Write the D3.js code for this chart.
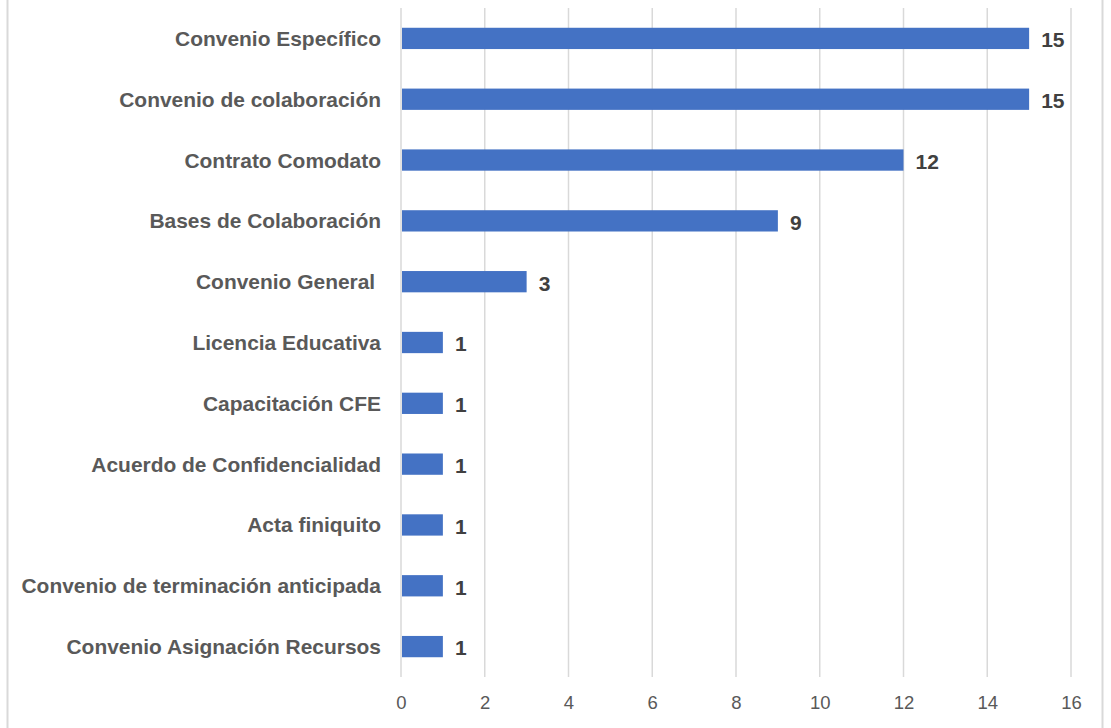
<!DOCTYPE html>
<html><head><meta charset="utf-8">
<script src="https://cdn.jsdelivr.net/npm/d3@7"></script>
<style>body{margin:0;background:#fff;} text{white-space:pre;}</style>
</head><body>
<svg id="c" width="1111" height="728"></svg>
<script>
const categories = ["Convenio Específico","Convenio de colaboración","Contrato Comodato","Bases de Colaboración","Convenio General ","Licencia Educativa","Capacitación CFE","Acuerdo de Confidencialidad","Acta finiquito","Convenio de terminación anticipada","Convenio Asignación Recursos"];
const values = [15,15,12,9,3,1,1,1,1,1,1];
const xTicks = [0,2,4,6,8,10,12,14,16];

const svg = d3.select("#c");
// frame borders
svg.append("line").attr("x1",7.5).attr("x2",7.5).attr("y1",0).attr("y2",728).attr("stroke","#d9d9d9").attr("stroke-width",2);
svg.append("line").attr("x1",1102.5).attr("x2",1102.5).attr("y1",0).attr("y2",728).attr("stroke","#d9d9d9").attr("stroke-width",2);

const x = d3.scaleLinear().domain([0,16]).range([401,1071]);
const y = d3.scaleBand().domain(categories).range([8,677]).paddingInner(0.65).paddingOuter(0.325);

const grid = svg.append("g");
grid.selectAll("line").data(xTicks).join("line")
  .attr("x1",d=>x(d)).attr("x2",d=>x(d)).attr("y1",8).attr("y2",677)
  .attr("stroke","#d9d9d9").attr("stroke-width",1.5);

const ax = svg.append("g").attr("transform","translate(0,677)")
  .call(d3.axisBottom(x).tickValues(xTicks).tickSize(0).tickPadding(19));
ax.select(".domain").remove();
ax.selectAll("text").attr("font-family","'Liberation Sans Narrow', 'Liberation Sans', sans-serif").attr("font-size",18.5).attr("fill","#595959");

svg.append("g").selectAll("rect").data(values).join("rect")
  .attr("x",x(0)+1).attr("y",(d,i)=>y(categories[i]))
  .attr("width",d=>x(d)-x(0)-1).attr("height",y.bandwidth())
  .attr("fill","#4472c4");

svg.append("g").selectAll("text").data(values).join("text")
  .attr("x",d=>x(d)+12).attr("y",(d,i)=>y(categories[i])+y.bandwidth()/2)
  .attr("dy","0.42em")
  .attr("font-family","'Liberation Sans', Arial, sans-serif").attr("font-weight","bold")
  .attr("font-size",21).attr("fill","#404040").text(d=>d);

svg.append("g").selectAll("text").data(categories).join("text")
  .attr("x",381).attr("y",d=>y(d)+y.bandwidth()/2)
  .attr("dy","0.36em").attr("text-anchor","end")
  .attr("font-family","'Liberation Sans', Arial, sans-serif").attr("font-weight","bold")
  .attr("font-size",20.95).attr("fill","#595959").text(d=>d);
</script>
</body></html>
